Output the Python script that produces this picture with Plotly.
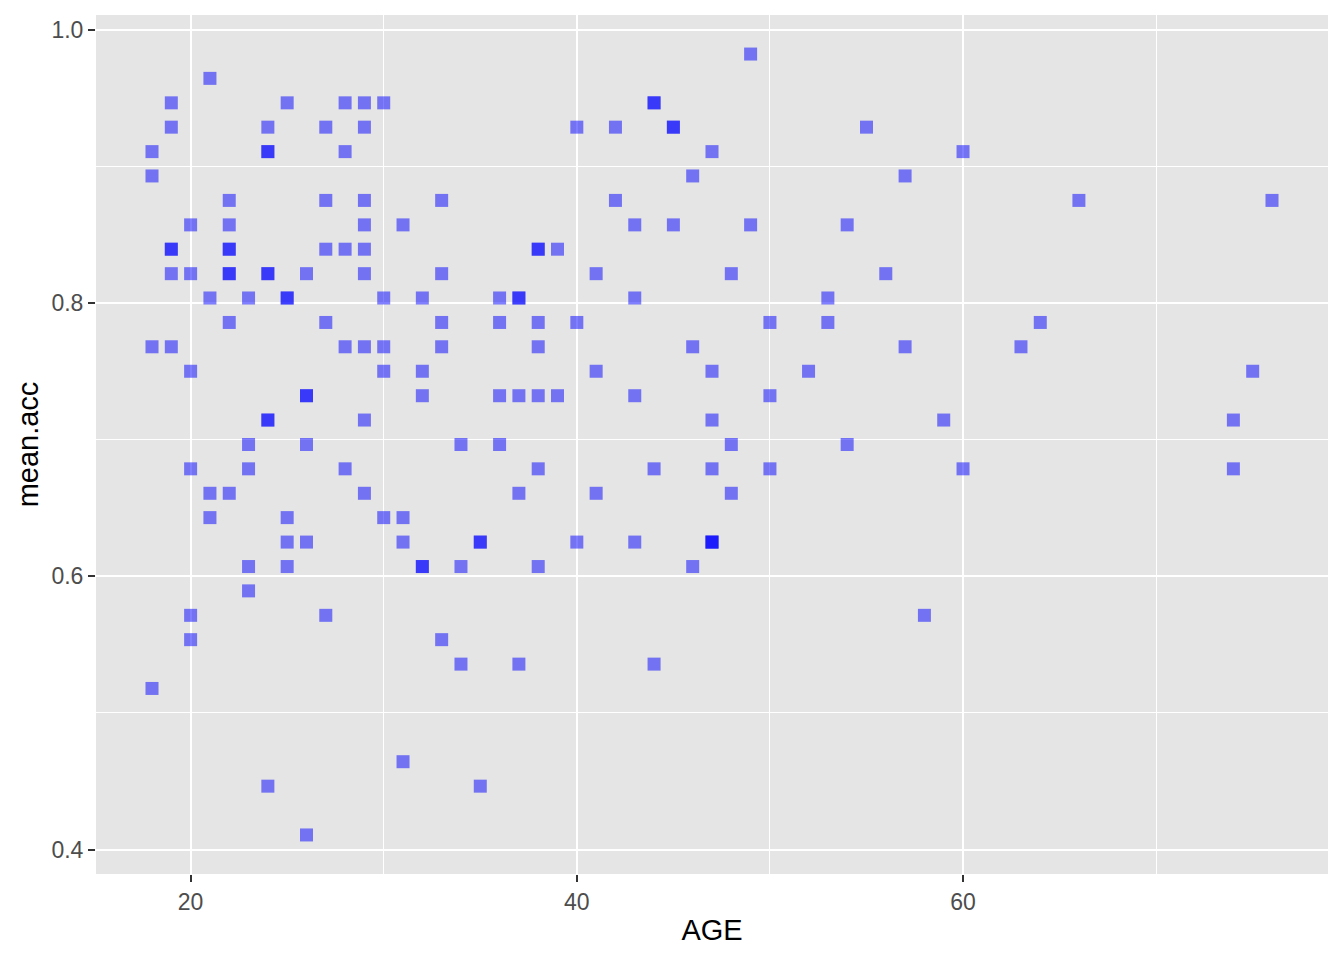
import plotly.graph_objects as go

age = (
    [18] * 4 + [19] * 6 + [20] * 6 + [21] * 4 + [22] * 8 + [23] * 5 + [24] * 8 +
    [25] * 6 + [26] * 6 + [27] * 5 + [28] * 5 + [29] * 9 + [30] * 5 + [31] * 4 +
    [32] * 5 + [33] * 5 + [34] * 3 + [35] * 3 + [36] * 4 + [37] * 5 + [38] * 7 +
    [39] * 2 + [40] * 3 + [41] * 3 + [42] * 2 + [43] * 4 + [44] * 4 + [45] * 3 +
    [46] * 3 + [47] * 7 + [48] * 3 + [49] * 2 + [50] * 3 + [52] * 1 + [53] * 2 +
    [54] * 2 + [55] * 1 + [56] * 1 + [57] * 2 + [58] * 1 + [59] * 1 + [60] * 2 +
    [63] * 1 + [64] * 1 + [66] * 1 + [74] * 2 + [75] * 1 + [76] * 1
)

mean_acc = [
    0.9107, 0.8929, 0.7679, 0.5179,                                   # 18
    0.9464, 0.9286, 0.8393, 0.8393, 0.8214, 0.7679,                   # 19
    0.8571, 0.8214, 0.7500, 0.6786, 0.5714, 0.5536,                   # 20
    0.9643, 0.8036, 0.6607, 0.6429,                                   # 21
    0.8750, 0.8571, 0.8393, 0.8393, 0.8214, 0.8214, 0.7857, 0.6607,   # 22
    0.8036, 0.6964, 0.6786, 0.6071, 0.5893,                           # 23
    0.9286, 0.9107, 0.9107, 0.8214, 0.8214, 0.7143, 0.7143, 0.4464,   # 24
    0.9464, 0.8036, 0.8036, 0.6429, 0.6250, 0.6071,                   # 25
    0.8214, 0.7321, 0.7321, 0.6964, 0.6250, 0.4107,                   # 26
    0.9286, 0.8750, 0.8393, 0.7857, 0.5714,                           # 27
    0.9464, 0.9107, 0.8393, 0.7679, 0.6786,                           # 28
    0.9464, 0.9286, 0.8750, 0.8571, 0.8393, 0.8214, 0.7679, 0.7143, 0.6607,  # 29
    0.9464, 0.8036, 0.7679, 0.7500, 0.6429,                           # 30
    0.8571, 0.6429, 0.6250, 0.4643,                                   # 31
    0.8036, 0.7500, 0.7321, 0.6071, 0.6071,                           # 32
    0.8750, 0.8214, 0.7857, 0.7679, 0.5536,                           # 33
    0.6964, 0.6071, 0.5357,                                           # 34
    0.6250, 0.6250, 0.4464,                                           # 35
    0.8036, 0.7857, 0.7321, 0.6964,                                   # 36
    0.8036, 0.8036, 0.7321, 0.6607, 0.5357,                           # 37
    0.8393, 0.8393, 0.7857, 0.7679, 0.7321, 0.6786, 0.6071,           # 38
    0.8393, 0.7321,                                                   # 39
    0.9286, 0.7857, 0.6250,                                           # 40
    0.8214, 0.7500, 0.6607,                                           # 41
    0.9286, 0.8750,                                                   # 42
    0.8571, 0.8036, 0.7321, 0.6250,                                   # 43
    0.9464, 0.9464, 0.6786, 0.5357,                                   # 44
    0.9286, 0.9286, 0.8571,                                           # 45
    0.8929, 0.7679, 0.6071,                                           # 46
    0.9107, 0.7500, 0.7143, 0.6786, 0.6250, 0.6250, 0.6250,           # 47
    0.8214, 0.6964, 0.6607,                                           # 48
    0.9821, 0.8571,                                                   # 49
    0.7857, 0.7321, 0.6786,                                           # 50
    0.7500,                                                           # 52
    0.8036, 0.7857,                                                   # 53
    0.8571, 0.6964,                                                   # 54
    0.9286,                                                           # 55
    0.8214,                                                           # 56
    0.8929, 0.7679,                                                   # 57
    0.5714,                                                           # 58
    0.7143,                                                           # 59
    0.9107, 0.6786,                                                   # 60
    0.7679,                                                           # 63
    0.7857,                                                           # 64
    0.8750,                                                           # 66
    0.7143, 0.6786,                                                   # 74
    0.7500,                                                           # 75
    0.8750,                                                           # 76
]

x_ticks = [20, 40, 60]
y_ticks = [0.4, 0.6, 0.8, 1.0]
y_tick_labels = ["0.4", "0.6", "0.8", "1.0"]

FONT = "Liberation Sans, Arial, Helvetica, sans-serif"

fig = go.Figure()
fig.add_trace(go.Scatter(
    x=age, y=mean_acc, mode="markers",
    marker=dict(symbol="square", size=13, color="rgba(0,0,255,0.5)", line=dict(width=0)),
    showlegend=False, hoverinfo="x+y",
))

xmin, xmax = min(age), max(age)
ymin, ymax = min(mean_acc), max(mean_acc)
xpad = (xmax - xmin) * 0.05
ypad = (ymax - ymin) * 0.05

fig.update_layout(
    width=1336, height=952,
    margin=dict(l=88, r=16, t=7, b=86),
    paper_bgcolor="white", plot_bgcolor="#E5E5E5",
    font=dict(family=FONT),
)
fig.update_xaxes(
    range=[xmin - xpad, xmax + xpad],
    tickvals=x_ticks, ticktext=[str(v) for v in x_ticks],
    showgrid=True, gridcolor="white", gridwidth=2.2,
    minor=dict(dtick=10, tick0=0, showgrid=True, gridcolor="white", gridwidth=1.1, ticks=""),
    zeroline=False, showline=False,
    ticks="outside", ticklen=7, tickwidth=2, tickcolor="#333333",
    tickfont=dict(size=23, color="#4D4D4D", family=FONT),
    title=dict(text="AGE", font=dict(size=29, color="black", family=FONT), standoff=6),
    automargin=False,
)
fig.update_yaxes(
    range=[ymin - ypad, ymax + ypad],
    tickvals=y_ticks, ticktext=y_tick_labels,
    showgrid=True, gridcolor="white", gridwidth=2.2,
    minor=dict(dtick=0.1, tick0=0, showgrid=True, gridcolor="white", gridwidth=1.1, ticks=""),
    zeroline=False, showline=False,
    ticks="outside", ticklen=7, tickwidth=2, tickcolor="#333333",
    tickfont=dict(size=23, color="#4D4D4D", family=FONT),
    title=dict(text="mean.acc", font=dict(size=29, color="black", family=FONT), standoff=4),
    automargin=False,
)

fig.write_html("out.html")
